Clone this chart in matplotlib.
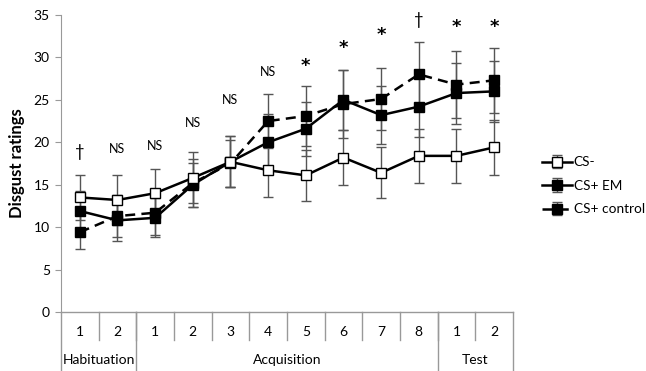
import matplotlib.pyplot as plt
import numpy as np

plt.rcParams['font.family'] = ['Lato', 'DejaVu Sans']

# x categories (trial numbers) and phase groups
trial_labels = ['1', '2', '1', '2', '3', '4', '5', '6', '7', '8', '1', '2']
phases = ['Habituation', 'Acquisition', 'Test']
phase_sizes = [2, 8, 2]

cs_minus = [13.5, 13.2, 14.0, 15.8, 17.7, 16.7, 16.1, 18.2, 16.4, 18.4, 18.4, 19.4]
cs_minus_err = [2.7, 2.9, 2.9, 3.0, 3.0, 3.1, 3.0, 3.2, 3.0, 3.2, 3.2, 3.2]

cs_em = [11.9, 10.8, 11.1, 15.0, 17.7, 20.0, 21.6, 25.0, 23.2, 24.2, 25.8, 26.0]
cs_em_err = [2.4, 2.4, 2.3, 2.6, 3.0, 3.3, 3.2, 3.5, 3.4, 3.6, 3.6, 3.6]

cs_ctrl = [9.4, 11.3, 11.7, 15.2, 17.5, 22.5, 23.1, 24.5, 25.1, 28.0, 26.8, 27.3]
cs_ctrl_err = [2.0, 2.5, 2.6, 2.8, 2.8, 3.2, 3.5, 4.0, 3.6, 3.8, 3.9, 3.8]

annotations = ['†', 'NS', 'NS', 'NS', 'NS', 'NS', '*', '*', '*', '†', '*', '*']
annot_y = [18.9, 19.2, 19.6, 22.3, 25.0, 28.3, 29.0, 31.1, 32.7, 34.4, 33.6, 33.6]

x = np.arange(len(trial_labels))

fig = plt.figure(figsize=(6.46, 3.71), dpi=100)
ax = fig.add_axes([0.0944, 0.159, 0.6996, 0.8006])

err_kw = dict(ecolor='#555555', elinewidth=1.0, capsize=3.5, capthick=1.0)
ax.errorbar(x, cs_ctrl, yerr=cs_ctrl_err, color='black', lw=1.8, ls=(0, (4, 2.5)),
            marker='s', ms=7.5, mfc='black', mec='black', label='CS+ control', **err_kw)
ax.errorbar(x, cs_em, yerr=cs_em_err, color='black', lw=1.8,
            marker='s', ms=7.5, mfc='black', mec='black', label='CS+ EM', **err_kw)
ax.errorbar(x, cs_minus, yerr=cs_minus_err, color='black', lw=1.8,
            marker='s', ms=7, mfc='white', mec='black', mew=1.0, label='CS-', **err_kw)

for xi, txt, yy in zip(x, annotations, annot_y):
    if txt == '*':
        ax.text(xi, yy, txt, ha='center', va='center', fontsize=13,
                family='DejaVu Sans', fontweight='bold')
    elif txt == '†':
        ax.text(xi, yy, txt, ha='center', va='center', fontsize=12)
    else:
        ax.text(xi, yy, txt, ha='center', va='center', fontsize=9)

ax.set_xlim(-0.5, len(x) - 0.5)
ax.set_ylim(0, 35)
ax.set_yticks(np.arange(0, 36, 5))
ax.tick_params(axis='y', labelsize=10, length=4, color='#999999', pad=4)
ax.set_xticks([])
for s in ['top', 'right', 'bottom']:
    ax.spines[s].set_visible(False)
ax.spines['left'].set_color('#999999')
ax.set_ylabel('Disgust ratings', fontsize=12, fontweight='bold', labelpad=6)

# category table below the axis
tr = ax.get_xaxis_transform()
ax.plot([-0.5, len(x) - 0.5], [0, 0], color='#999999', lw=1, transform=tr, clip_on=False)
for xi, lab in zip(x, trial_labels):
    ax.text(xi, -0.067, lab, transform=tr, ha='center', va='center', fontsize=10)
for b in range(1, len(x)):
    ax.plot([b - 0.5, b - 0.5], [0, -0.095], color='#999999', lw=1, transform=tr, clip_on=False)
edges = np.concatenate([[0], np.cumsum(phase_sizes)]) - 0.5
for e in edges:
    ax.plot([e, e], [0, -0.2], color='#999999', lw=1, transform=tr, clip_on=False)
for i, name in enumerate(phases):
    mid = (edges[i] + edges[i + 1]) / 2
    ax.text(mid, -0.162, name, transform=tr, ha='center', va='center', fontsize=10)

handles, labels = ax.get_legend_handles_labels()
leg = ax.legend(handles[::-1], labels[::-1], loc='upper left', bbox_to_anchor=(0.828, 0.597),
                bbox_transform=fig.transFigure, frameon=False, fontsize=9.8,
                handlelength=2.2, handletextpad=0.15, labelspacing=0.85, borderpad=0)

fig.savefig('out.png', dpi=100)
